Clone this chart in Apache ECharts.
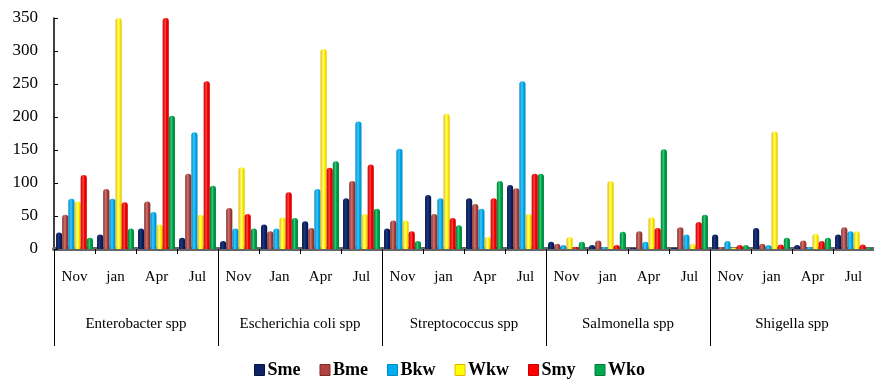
<!DOCTYPE html>
<html><head><meta charset="utf-8">
<script src="https://cdn.jsdelivr.net/npm/echarts@6/dist/echarts.min.js"></script>
<style>html,body{margin:0;padding:0;background:#fff}#c{width:874px;height:385px}</style>
</head><body><div id="c"></div>
<script>
var months = ['Nov','jan','Apr','Jul','Nov','Jan','Apr','Jul','Nov','jan','Apr','Jul','Nov','jan','Apr','Jul','Nov','jan','Apr','Jul'];
var groups = ['Enterobacter spp','Escherichia coli spp','Streptococcus spp','Salmonella spp','Shigella spp'];
var yTicks = [0,50,100,150,200,250,300,350];
var seriesNames = ['Sme','Bme','Bkw','Wkw','Smy','Wko'];
var Sme = [25,22,31,17, 12,37,42,77, 31,82,77,97, 11,6,2,2, 22,32,6,22];
var Bme = [52,91,72,114, 62,27,32,103, 43,53,68,92, 8,13,27,33, 3,8,13,33];
var Bkw = [76,76,56,177, 31,31,91,193, 152,77,61,254, 6,3,11,22, 12,6,3,27];
var Wkw = [72,350,37,52, 124,48,303,53, 43,205,18,53, 18,103,48,8, 2,178,23,27];
var Smy = [112,71,350,254, 53,86,123,128, 27,47,77,114, 3,6,32,41, 6,7,12,7];
var Wko = [17,31,202,96, 31,47,133,61, 12,36,103,114, 11,26,151,52, 6,17,17,2];
var values = [Sme,Bme,Bkw,Wkw,Smy,Wko];
var baseColors = ['#0d2366','#b04440','#00aeef','#ffff00','#ff0000','#00a94f'];
var edgeColors = ['#061540','#7e2a28','#0088c0','#e8b800','#c80000','#007a38'];
var midColors  = ['#1c3a8a','#d87a76','#40c8ff','#ffff80','#ff4040','#30c870'];

var font = '"Liberation Serif","Times New Roman",serif';
function grad(i){
  return new echarts.graphic.LinearGradient(0,0,1,0,[
    {offset:0,color:edgeColors[i]},
    {offset:0.45,color:midColors[i]},
    {offset:0.6,color:baseColors[i]},
    {offset:1,color:edgeColors[i]}
  ]);
}
var series = seriesNames.map(function(n,i){
  return {
    name:n, type:'bar', xAxisIndex:0, data:values[i],
    barGap:'0%', barCategoryGap:'10%',
    itemStyle:{color:grad(i), borderRadius:[3,3,0,0]}
  };
});
var chart = echarts.init(document.getElementById('c'));
chart.setOption({
  animation:false,
  grid:{left:54,right:0,top:18,bottom:136,containLabel:false},
  legend:{
    top:361,left:254,padding:0,itemWidth:10,itemHeight:11,itemGap:19,
    textStyle:{fontFamily:font,fontWeight:'bold',fontSize:18,color:'#000',padding:[0,0,0,-2]},
    data:seriesNames.map(function(n,i){return {name:n,icon:'rect',itemStyle:{color:baseColors[i],borderColor:edgeColors[i],borderWidth:1}};})
  },
  xAxis:[
    {type:'category',data:months,position:'bottom',
     axisLine:{show:true,lineStyle:{color:'#666',width:4}},
     axisTick:{show:true,length:5,lineStyle:{color:'#000'}},
     axisLabel:{fontFamily:font,fontSize:15,color:'#000',margin:21,interval:0}},
    {type:'category',data:groups,position:'bottom',
     axisLine:{show:false},
     axisTick:{show:true,length:97,lineStyle:{color:'#000'}},
     axisLabel:{fontFamily:font,fontSize:15,color:'#000',margin:68,interval:0}}
  ],
  yAxis:{type:'value',min:0,max:350,interval:50,
    axisLine:{show:true,lineStyle:{color:'#000',width:1.5}},
    axisTick:{show:true,inside:true,length:4,lineStyle:{color:'#000'}},
    splitLine:{show:false},
    axisLabel:{fontFamily:font,fontSize:17,color:'#000',margin:16,
      formatter:function(v){return yTicks.indexOf(v)>=0?String(v):'';}}
  },
  series:series
});
</script></body></html>
